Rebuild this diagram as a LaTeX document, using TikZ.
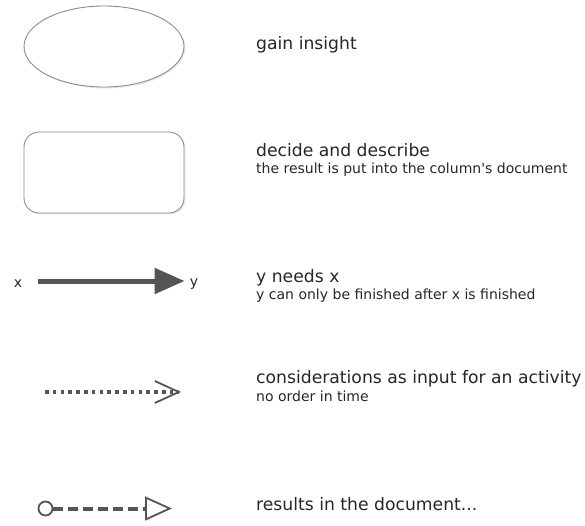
\documentclass[tikz,border=0pt]{standalone}
\usepackage{fontspec}
\setmainfont{DejaVu Sans}[Ligatures=TeXOff]
\usetikzlibrary{arrows.meta,shadows,shapes.geometric}
\definecolor{txt}{HTML}{262626}
\definecolor{arr}{HTML}{555555}
\definecolor{brd}{HTML}{8C8C8C}
\tikzset{
  title/.style={anchor=base west,inner sep=0pt,text=txt,font=\fontsize{17.2}{20}\selectfont},
  sub/.style={anchor=base west,inner sep=0pt,text=txt,font=\fontsize{14}{16}\selectfont},
  shapebox/.style={draw=brd,fill=white,line width=0.9pt,
    drop shadow={shadow xshift=1.5pt,shadow yshift=-1.5pt,opacity=0.2,fill=black!40}},
  endlabel/.style={inner sep=0pt,text=txt,font=\fontsize{14}{16}\selectfont},
}
\begin{document}
\begin{tikzpicture}[x=1pt,y=-1pt]
\useasboundingbox (0,0) rectangle (585,525);
% shapes
\node[shapebox,ellipse,minimum width=160pt,minimum height=81pt,inner sep=0pt] (ell) at (104,46.5) {};
\node[shapebox,rectangle,rounded corners=15pt,minimum width=160pt,minimum height=81pt,inner sep=0pt] (rect) at (104,172.5) {};
% labels
\node[title] (t1) at (256,49) {gain insight};
\node[title] (t2) at (256,156) {decide and describe};
\node[sub] (s2) at (256,173) {the result is put into the column's document};
\node[title] (t3) at (256,282) {y needs x};
\node[sub] (s3) at (256,299) {y can only be finished after x is finished};
\node[title] (t4) at (256,383) {considerations as input for an activity};
\node[sub] (s4) at (256,401) {no order in time};
\node[title] (t5) at (256,510) {results in the document...};
% x -> y
\node[endlabel] (x) at (18,284) {x};
\node[endlabel] (y) at (194,284) {y};
\draw[arr,line width=5pt,-{Triangle[length=30pt,width=25pt]},shorten <=16pt,shorten >=5pt] (x.east|-0,281) -- (y.west|-0,281);
% dotted arrow
\coordinate (d1) at (45,392);
\coordinate (d2) at (181,392);
\draw[arr,line width=4pt,dash pattern=on 3.5pt off 4.3pt,-{Straight Barb[length=24pt,width=22pt,line width=1.8pt]}] (d1) -- (d2);
% results arrow
\node[circle,draw=arr,line width=1.8pt,fill=white,minimum size=14pt,inner sep=0pt] (rc) at (45.5,508.5) {};
\coordinate (r2) at (172,508.5);
\draw[arr,line width=4pt,dash pattern=on 10pt off 5pt,-{Triangle[open,length=27pt,width=24pt,line width=1.8pt,fill=white]}] (rc.east) -- (r2);
\end{tikzpicture}
\end{document}
